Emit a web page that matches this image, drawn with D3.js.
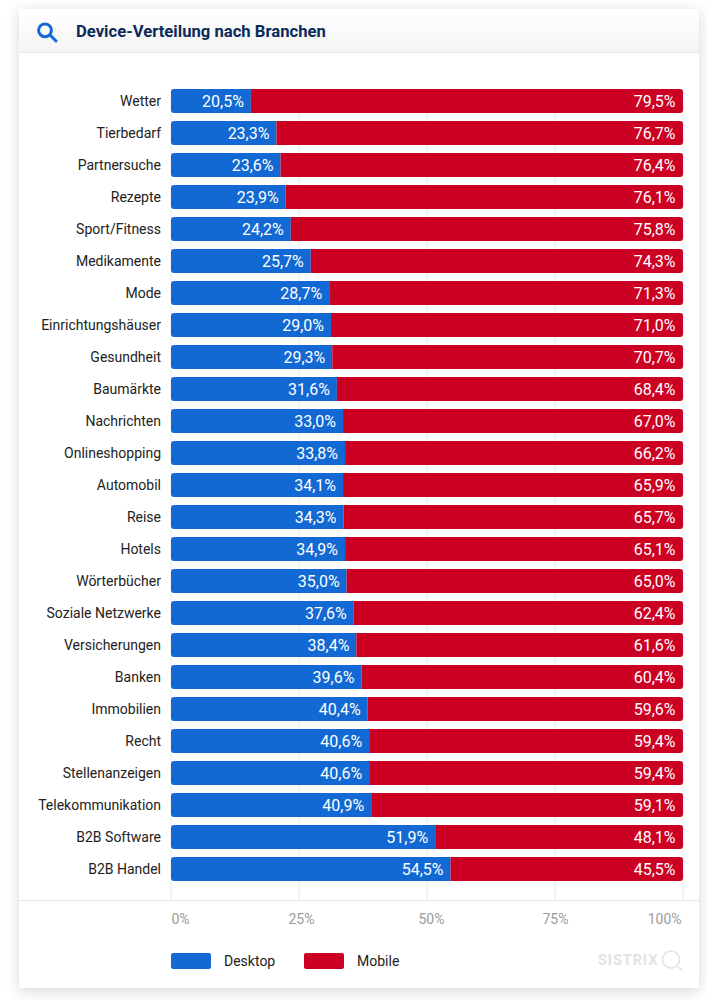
<!DOCTYPE html>
<html lang="de">
<head>
<meta charset="utf-8">
<title>Device-Verteilung nach Branchen</title>
<script src="https://cdn.jsdelivr.net/npm/d3@7"></script>
<style>
  html, body { margin: 0; padding: 0; background: #fff; }
  svg { display: block; }
  text { font-family: Roboto, sans-serif; }
</style>
</head>
<body>
<div id="chart"></div>
<script>
// Branchen, top to bottom
const categories = ['Wetter', 'Tierbedarf', 'Partnersuche', 'Rezepte', 'Sport/Fitness', 'Medikamente', 'Mode',
  'Einrichtungshäuser', 'Gesundheit', 'Baumärkte', 'Nachrichten', 'Onlineshopping', 'Automobil', 'Reise', 'Hotels',
  'Wörterbücher', 'Soziale Netzwerke', 'Versicherungen', 'Banken', 'Immobilien', 'Recht', 'Stellenanzeigen',
  'Telekommunikation', 'B2B Software', 'B2B Handel'];

// printed on the bars
const desktopLabels = ['20,5%', '23,3%', '23,6%', '23,9%', '24,2%', '25,7%', '28,7%', '29,0%', '29,3%', '31,6%', '33,0%',
  '33,8%', '34,1%', '34,3%', '34,9%', '35,0%', '37,6%', '38,4%', '39,6%', '40,4%', '40,6%', '40,6%', '40,9%', '51,9%', '54,5%'];
const mobileLabels = ['79,5%', '76,7%', '76,4%', '76,1%', '75,8%', '74,3%', '71,3%', '71,0%', '70,7%', '68,4%', '67,0%',
  '66,2%', '65,9%', '65,7%', '65,1%', '65,0%', '62,4%', '61,6%', '60,4%', '59,6%', '59,4%', '59,4%', '59,1%', '48,1%', '45,5%'];

// the blue part as it is really drawn in the picture (does not follow the printed numbers)
const desktopDrawn = [15.6, 20.6, 21.4, 22.4, 23.4, 27.3, 30.9, 31.25, 31.5, 32.4, 33.6, 34.0, 33.6, 33.7, 34.0,
  34.3, 35.7, 36.2, 37.2, 38.4, 38.7, 38.7, 39.1, 51.6, 54.6];

const tickValues = [0, 25, 50, 75, 100];
const legendItems = ['Desktop', 'Mobile'];

const blue = '#1269d3';
const red = '#cc0022';

const width = 707;
const height = 1000;

const x = d3.scaleLinear().domain([0, 100]).range([171, 683]);
const y = d3.scaleBand().domain(categories).range([85, 885]).paddingInner(0.25).paddingOuter(0.125);

const svg = d3.select('#chart').append('svg')
  .attr('width', width)
  .attr('height', height);

const defs = svg.append('defs');

const shadow = defs.append('filter').attr('id', 'card-shadow')
  .attr('x', '-10%').attr('y', '-10%').attr('width', '120%').attr('height', '120%');
shadow.append('feDropShadow')
  .attr('dx', 0).attr('dy', 3).attr('stdDeviation', 7)
  .attr('flood-color', '#000').attr('flood-opacity', 0.16);

const headerFill = defs.append('linearGradient').attr('id', 'header-fill')
  .attr('x1', 0).attr('x2', 0).attr('y1', 0).attr('y2', 1);
headerFill.append('stop').attr('offset', 0).attr('stop-color', '#ffffff');
headerFill.append('stop').attr('offset', 1).attr('stop-color', '#f4f4f4');

// card + header
svg.append('rect')
  .attr('x', 19).attr('y', 9).attr('width', 680).attr('height', 979).attr('rx', 2)
  .attr('fill', '#fff').attr('filter', 'url(#card-shadow)');
svg.append('rect')
  .attr('x', 19).attr('y', 9).attr('width', 680).attr('height', 43)
  .attr('fill', 'url(#header-fill)');
svg.append('line')
  .attr('x1', 19).attr('x2', 699).attr('y1', 52.5).attr('y2', 52.5)
  .attr('stroke', '#e4e4e4');

// header icon
const icon = svg.append('g').attr('fill', 'none').attr('stroke', blue).attr('stroke-width', 3);
icon.append('circle').attr('cx', 45).attr('cy', 30.3).attr('r', 6.4);
icon.append('line').attr('x1', 50).attr('y1', 35).attr('x2', 56).attr('y2', 41).attr('stroke-linecap', 'round');

svg.append('text')
  .attr('x', 76).attr('y', 37)
  .attr('font-size', 16.65).attr('font-weight', 700).attr('fill', '#0b2a5c')
  .text('Device-Verteilung nach Branchen');

// grid
svg.append('g').selectAll('line')
  .data(tickValues)
  .join('line')
  .attr('x1', d => x(d)).attr('x2', d => x(d))
  .attr('y1', y(categories[0])).attr('y2', 900)
  .attr('stroke', '#ececec').attr('stroke-width', 1.2);

svg.append('line')
  .attr('x1', 19).attr('x2', 699).attr('y1', 900.5).attr('y2', 900.5)
  .attr('stroke', '#e4e4e4');

// x axis, the labels sit a little off their gridlines in the original
const tickShift = [0, 2, 4, 0, -2];
const tickAnchor = ['start', 'middle', 'middle', 'middle', 'end'];
const xAxis = svg.append('g')
  .attr('transform', 'translate(0,900)')
  .call(d3.axisBottom(x).tickValues(tickValues).tickFormat(d => d + '%').tickSize(0).tickPadding(14));
xAxis.select('.domain').remove();
xAxis.selectAll('text')
  .attr('font-family', 'Roboto, sans-serif').attr('font-size', 14).attr('fill', '#9b9b9b')
  .attr('dx', (d, i) => tickShift[i])
  .attr('text-anchor', (d, i) => tickAnchor[i]);

// category labels
const yAxis = svg.append('g')
  .attr('transform', 'translate(171,0.8)')
  .call(d3.axisLeft(y).tickSize(0).tickPadding(10));
yAxis.select('.domain').remove();
yAxis.selectAll('text')
  .attr('font-family', 'Roboto, sans-serif').attr('font-size', 14).attr('fill', '#222');

// bars
const rows = svg.append('g').selectAll('g')
  .data(categories)
  .join('g');

rows.each(function (name, i) {
  const row = d3.select(this);
  const clipId = 'bar-clip-' + i;
  defs.append('clipPath').attr('id', clipId)
    .append('rect')
    .attr('x', x(0)).attr('y', y(name))
    .attr('width', x(100) - x(0)).attr('height', y.bandwidth())
    .attr('rx', 3);

  const bars = row.append('g').attr('clip-path', 'url(#' + clipId + ')');
  bars.append('rect')
    .attr('x', x(0)).attr('y', y(name))
    .attr('width', x(desktopDrawn[i]) - x(0)).attr('height', y.bandwidth())
    .attr('fill', blue);
  bars.append('rect')
    .attr('x', x(desktopDrawn[i])).attr('y', y(name))
    .attr('width', x(100) - x(desktopDrawn[i])).attr('height', y.bandwidth())
    .attr('fill', red);

  row.append('text')
    .attr('x', x(desktopDrawn[i]) - 7).attr('y', y(name) + y.bandwidth() / 2)
    .attr('dy', '0.36em').attr('text-anchor', 'end')
    .attr('font-size', 16).attr('fill', '#fff')
    .text(desktopLabels[i]);
  row.append('text')
    .attr('x', x(100) - 7.5).attr('y', y(name) + y.bandwidth() / 2)
    .attr('dy', '0.36em').attr('text-anchor', 'end')
    .attr('font-size', 16).attr('fill', '#fff')
    .text(mobileLabels[i]);
});

// legend
const legendX = [171, 304];
const legendColors = [blue, red];
const legend = svg.append('g').selectAll('g')
  .data(legendItems)
  .join('g')
  .attr('transform', (d, i) => 'translate(' + legendX[i] + ',953)');
legend.append('rect')
  .attr('width', 40).attr('height', 16).attr('rx', 2)
  .attr('fill', (d, i) => legendColors[i]);
legend.append('text')
  .attr('x', 53).attr('y', 8).attr('dy', '0.36em')
  .attr('font-size', 14).attr('fill', '#222')
  .text(d => d);

// watermark
svg.append('text')
  .attr('x', 598).attr('y', 964.5)
  .attr('font-size', 14.5).attr('font-weight', 700).attr('letter-spacing', 0.9).attr('fill', '#e3e3e3')
  .text('SISTRIX');
const mark = svg.append('g').attr('fill', 'none').attr('stroke', '#e3e3e3').attr('stroke-width', 1.6);
mark.append('circle').attr('cx', 671).attr('cy', 959.5).attr('r', 8.5);
mark.append('line').attr('x1', 677).attr('y1', 966).attr('x2', 683).attr('y2', 971);
</script>
</body>
</html>
